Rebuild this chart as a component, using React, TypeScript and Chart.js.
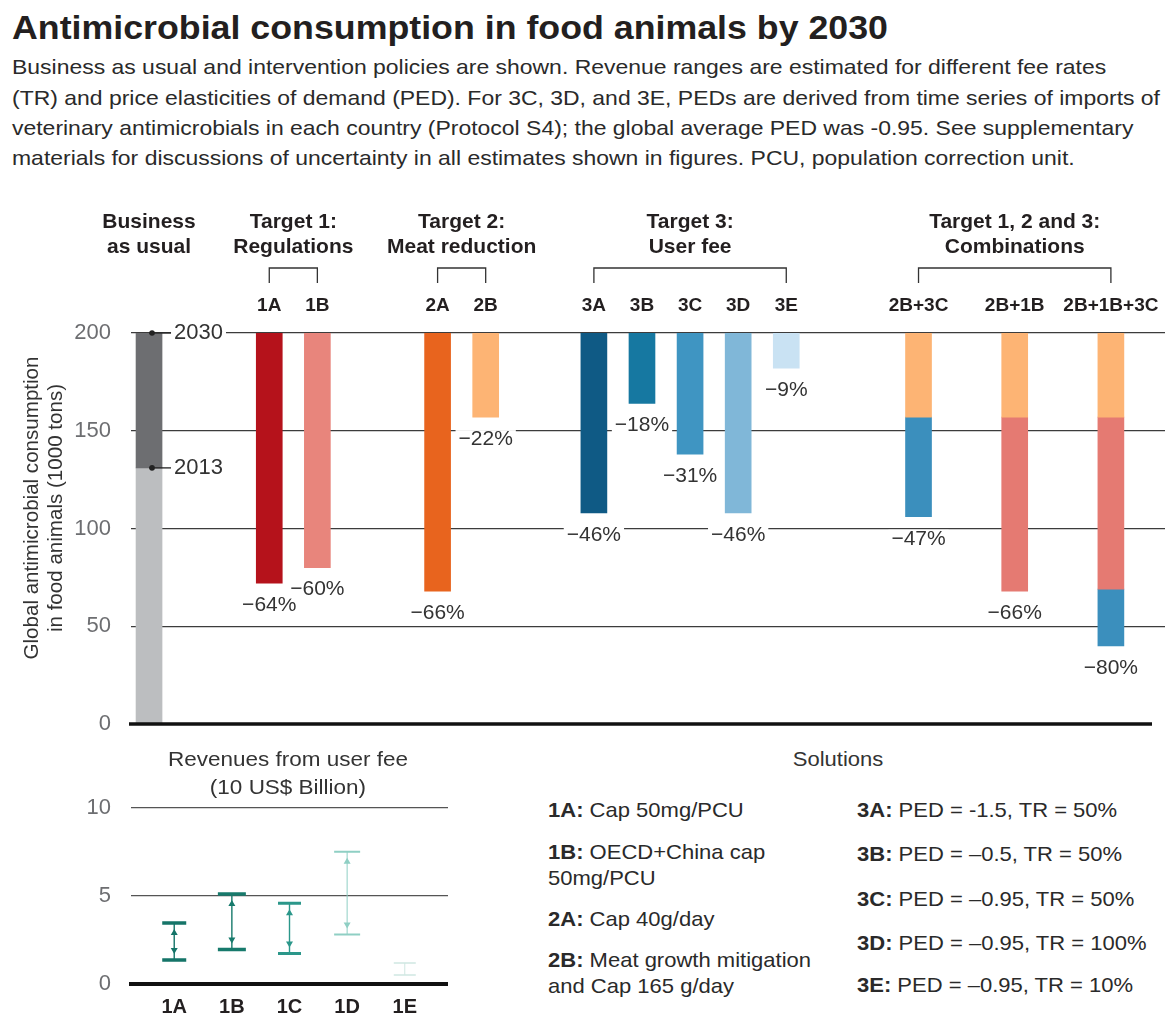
import React, { useEffect, useRef } from 'react';
import { Chart, registerables } from 'chart.js';

Chart.register(...registerables);

// ======================= DATA =======================
const TITLE = 'Antimicrobial consumption in food animals by 2030';
const INTRO_LINES = [
  'Business as usual and intervention policies are shown. Revenue ranges are estimated for different fee rates',
  '(TR) and price elasticities of demand (PED). For 3C, 3D, and 3E, PEDs are derived from time series of imports of',
  'veterinary antimicrobials in each country (Protocol S4); the global average PED was -0.95. See supplementary',
  'materials for discussions of uncertainty in all estimates shown in figures. PCU, population correction unit.',
];

const Y_TITLE = ['Global antimicrobial consumption', 'in food animals (1000 tons)'];

const SCENARIOS = ['BAU', '1A', '1B', '2A', '2B', '3A', '3B', '3C', '3D', '3E', '2B+3C', '2B+1B', '2B+1B+3C'];
const BAU_2030 = 200;
const BAU_2013 = 131;
// consumption level (1000 tons) reached after each successive measure
const LEVEL_STEP1 = [BAU_2013, 72, 80, 68, 157, 108, 164, 138, 108, 182, 157, 157, 157];
const LEVEL_STEP2 = [0, null, null, null, null, null, null, null, null, null, 106, 68, 69];
const LEVEL_STEP3 = [null, null, null, null, null, null, null, null, null, null, null, null, 40];
const CHANGE_PCT = [null, -64, -60, -66, -22, -46, -18, -31, -46, -9, -47, -66, -80];
const YEAR_LABELS = ['2030', '2013'];
const YEAR_VALUES = [BAU_2030, BAU_2013];

const GROUP_TITLES = [
  ['Business', 'as usual'],
  ['Target 1:', 'Regulations'],
  ['Target 2:', 'Meat reduction'],
  ['Target 3:', 'User fee'],
  ['Target 1, 2 and 3:', 'Combinations'],
];
const GROUP_MEMBERS = [
  ['BAU'],
  ['1A', '1B'],
  ['2A', '2B'],
  ['3A', '3B', '3C', '3D', '3E'],
  ['2B+3C', '2B+1B', '2B+1B+3C'],
];
const MAIN_Y_TICKS = [0, 50, 100, 150, 200];

const REVENUE_TITLE = ['Revenues from user fee', '(10 US$ Billion)'];
const REVENUE_CATEGORIES = ['1A', '1B', '1C', '1D', '1E'];
const REVENUE_LOW = [1.36, 1.96, 1.73, 2.81, 0.51];
const REVENUE_HIGH = [3.46, 5.12, 4.59, 7.51, 1.2];
const REVENUE_Y_TICKS = [0, 5, 10];

const SOLUTIONS_TITLE = 'Solutions';
const SOLUTION_CODES_LEFT = ['1A', '1B', '2A', '2B'];
const SOLUTION_TEXT_LEFT = [
  ['Cap 50mg/PCU'],
  ['OECD+China cap', '50mg/PCU'],
  ['Cap 40g/day'],
  ['Meat growth mitigation', 'and Cap 165 g/day'],
];
const SOLUTION_CODES_RIGHT = ['3A', '3B', '3C', '3D', '3E'];
const SOLUTION_TEXT_RIGHT = [
  'PED = -1.5, TR = 50%',
  'PED = \u20130.5, TR = 50%',
  'PED = \u20130.95, TR = 50%',
  'PED = \u20130.95, TR = 100%',
  'PED = \u20130.95, TR = 10%',
];

// ======================= STYLE / LAYOUT =======================
const FONT = "'Liberation Sans', Arial, Helvetica, sans-serif";
const INK = '#231f20';

const STEP1_COLORS = ['#6d6e71', '#b5121b', '#e8857c', '#e8641e', '#fdb474', '#0f5a85', '#1678a1', '#3f95c2', '#80b7d8', '#c9e2f3', '#fdb474', '#fdb474', '#fdb474'];
const STEP2_COLORS = ['#bcbec0', null, null, null, null, null, null, null, null, null, '#3b8fbd', '#e57a72', '#e57a72'];
const STEP3_COLORS = [null, null, null, null, null, null, null, null, null, null, null, null, '#3b8fbd'];

const MAIN_SLOT_COUNT = 86;
const MAIN_SLOTS = [1, 11, 15, 25, 29, 38, 42, 46, 50, 54, 65, 73, 81];

const REV_SLOT_COUNT = 11;
const REV_SLOTS = [1, 3, 5, 7, 9];
const REV_COLORS = ['#157468', '#177a6c', '#2b978a', '#8fcfc4', '#cfe7e2'];
const REV_CAP_THICK = [3.5, 3.5, 3, 2, 1.5];
const REV_CAP_W = [24, 28, 23, 26, 22];
const REV_LINE_W = [1.4, 1.4, 1.4, 1, 1];

// ======================= HELPERS =======================
let mctx: any = null;
function measure(text: string, font: string): number {
  if (!mctx) mctx = document.createElement('canvas').getContext('2d');
  mctx.font = font;
  return mctx.measureText(text).width;
}

function ctext(ctx: any, text: string, x: number, y: number, font: string, color: string, align: string, sx = 1, bg: string | null = null, bgH = 20) {
  ctx.save();
  ctx.font = font;
  const w = ctx.measureText(text).width * sx;
  const left = align === 'left' ? x : align === 'center' ? x - w / 2 : x - w;
  if (bg) {
    ctx.fillStyle = bg;
    ctx.fillRect(left - 3, y - bgH / 2, w + 6, bgH);
  }
  ctx.translate(left, y);
  ctx.scale(sx, 1);
  ctx.fillStyle = color;
  ctx.textAlign = 'left';
  ctx.textBaseline = 'middle';
  ctx.fillText(text, 0, 0);
  ctx.restore();
}

const fixedAxis = (width: number) => (s: any) => {
  s.width = width;
  s.paddingTop = 0;
  s.paddingBottom = 0;
};

type Seg = { t: string; b?: boolean };
function Txt(props: { x: number; y: number; segs: Seg[]; size: number; sx?: number; align?: string; color?: string; rotate?: boolean }) {
  const { x, y, segs, size, sx = 1, align = 'left', color = INK, rotate = false } = props;
  let transform = '';
  let origin = '';
  if (rotate) {
    transform = `translate(-50%, -50%) rotate(-90deg) scaleX(${sx})`;
    origin = '50% 50%';
  } else if (align === 'center') {
    transform = `translate(-50%, -50%) scaleX(${sx})`;
    origin = '50% 50%';
  } else {
    transform = `translateY(-50%) scaleX(${sx})`;
    origin = '0% 50%';
  }
  return (
    <div
      style={{
        position: 'absolute',
        left: x,
        top: y,
        whiteSpace: 'pre',
        fontFamily: FONT,
        fontSize: size,
        lineHeight: `${size}px`,
        color,
        transform,
        transformOrigin: origin,
      }}
    >
      {segs.map((s, i) => (
        <span key={i} style={{ fontWeight: s.b ? 700 : 400 }}>
          {s.t}
        </span>
      ))}
    </div>
  );
}

// ======================= MAIN CHART =======================
function MainChart() {
  const ref = useRef<HTMLCanvasElement>(null);
  useEffect(() => {
    const labels: string[] = Array.from({ length: MAIN_SLOT_COUNT }, () => '');
    SCENARIOS.forEach((s, i) => (labels[MAIN_SLOTS[i]] = s));

    const build = (low: (number | null)[], high: (number | null)[], colors: (string | null)[]) => {
      const data: any[] = Array.from({ length: MAIN_SLOT_COUNT }, () => null);
      const bg: string[] = Array.from({ length: MAIN_SLOT_COUNT }, () => 'rgba(0,0,0,0)');
      SCENARIOS.forEach((_, i) => {
        if (low[i] != null && high[i] != null) {
          data[MAIN_SLOTS[i]] = [low[i], high[i]];
          bg[MAIN_SLOTS[i]] = colors[i] as string;
        }
      });
      return { data, backgroundColor: bg, barThickness: 26, grouped: false, borderWidth: 0 };
    };
    const top = SCENARIOS.map(() => BAU_2030);

    const finalLevel = (i: number) =>
      LEVEL_STEP3[i] != null ? LEVEL_STEP3[i] : LEVEL_STEP2[i] != null ? LEVEL_STEP2[i] : LEVEL_STEP1[i];

    const overlay = {
      id: 'mainOverlay',
      afterDatasetsDraw(chart: any) {
        const ctx = chart.ctx;
        const ca = chart.chartArea;
        const xs = chart.scales.x;
        const ys = chart.scales.y;
        const px = (name: string) => xs.getPixelForValue(MAIN_SLOTS[SCENARIOS.indexOf(name)]);

        // zero line
        ctx.save();
        ctx.strokeStyle = '#111';
        ctx.lineWidth = 3.5;
        ctx.beginPath();
        ctx.moveTo(ca.left - 2, ys.getPixelForValue(0));
        ctx.lineTo(ca.right - 13, ys.getPixelForValue(0));
        ctx.stroke();
        ctx.restore();

        // percentage labels
        SCENARIOS.forEach((s, i) => {
          const pct = CHANGE_PCT[i];
          if (pct == null) return;
          const y = ys.getPixelForValue(finalLevel(i)) + 22;
          ctext(ctx, '\u2212' + Math.abs(pct) + '%', px(s), y, `21px ${FONT}`, '#333', 'center', 1, '#fff', 18);
        });

        // category labels
        SCENARIOS.forEach((s) => {
          if (s === 'BAU') return;
          ctext(ctx, s, px(s), ca.top - 27, `bold 19px ${FONT}`, INK, 'center');
        });

        // group headers and brackets
        GROUP_MEMBERS.forEach((members, g) => {
          const x0 = px(members[0]);
          const x1 = px(members[members.length - 1]);
          const cx = (x0 + x1) / 2;
          ctext(ctx, GROUP_TITLES[g][0], cx, ca.top - 111, `bold 21px ${FONT}`, INK, 'center');
          ctext(ctx, GROUP_TITLES[g][1], cx, ca.top - 86, `bold 21px ${FONT}`, INK, 'center');
          if (members.length > 1) {
            ctx.save();
            ctx.strokeStyle = '#333';
            ctx.lineWidth = 1.3;
            ctx.beginPath();
            ctx.moveTo(x0, ca.top - 50);
            ctx.lineTo(x0, ca.top - 65);
            ctx.lineTo(x1, ca.top - 65);
            ctx.lineTo(x1, ca.top - 50);
            ctx.stroke();
            ctx.restore();
          }
        });

        // BAU year markers
        const bx = px('BAU');
        YEAR_LABELS.forEach((lab, k) => {
          const y = ys.getPixelForValue(YEAR_VALUES[k]);
          ctx.save();
          ctx.strokeStyle = '#222';
          ctx.lineWidth = 1.3;
          ctx.beginPath();
          ctx.moveTo(bx, y);
          ctx.lineTo(bx + 22, y);
          ctx.stroke();
          ctx.fillStyle = '#222';
          ctx.beginPath();
          ctx.arc(bx + 3, y, 2.8, 0, Math.PI * 2);
          ctx.fill();
          ctx.restore();
          ctext(ctx, lab, bx + 25, y, `22px ${FONT}`, '#333', 'left', 1, '#fff', 20);
        });
      },
    };

    const chart = new Chart(ref.current as HTMLCanvasElement, {
      type: 'bar',
      data: {
        labels,
        datasets: [
          build(LEVEL_STEP1, top, STEP1_COLORS) as any,
          build(LEVEL_STEP2, LEVEL_STEP1, STEP2_COLORS) as any,
          build(LEVEL_STEP3, LEVEL_STEP2, STEP3_COLORS) as any,
        ],
      },
      options: {
        responsive: false,
        animation: false,
        layout: { padding: { top: 133, bottom: 21, left: 0, right: 0 } },
        plugins: { legend: { display: false }, tooltip: { enabled: false } },
        scales: {
          x: { type: 'category', display: false, offset: true },
          y: {
            min: 0,
            max: 200,
            afterFit: fixedAxis(131),
            afterBuildTicks: (s: any) => {
              s.ticks = MAIN_Y_TICKS.map((v) => ({ value: v }));
            },
            border: { display: false },
            grid: {
              color: '#3c3c3c',
              lineWidth: (c: any) => (c.tick && c.tick.value === 0 ? 0 : 1.3),
              drawTicks: false,
            },
            ticks: { padding: 20, color: '#6d6e71', font: { family: FONT, size: 22 } },
          },
        },
      } as any,
      plugins: [overlay],
    });
    return () => chart.destroy();
  }, []);
  return (
    <canvas
      ref={ref}
      width={1165}
      height={545}
      style={{ position: 'absolute', left: 0, top: 200, width: 1165, height: 545 }}
    />
  );
}

// ======================= REVENUE CHART =======================
function RevenueChart() {
  const ref = useRef<HTMLCanvasElement>(null);
  useEffect(() => {
    const labels: string[] = Array.from({ length: REV_SLOT_COUNT }, () => '');
    REVENUE_CATEGORIES.forEach((c, i) => (labels[REV_SLOTS[i]] = c));
    const data: any[] = Array.from({ length: REV_SLOT_COUNT }, () => null);
    REVENUE_CATEGORIES.forEach((_, i) => (data[REV_SLOTS[i]] = [REVENUE_LOW[i], REVENUE_HIGH[i]]));

    const overlay = {
      id: 'revOverlay',
      afterDatasetsDraw(chart: any) {
        const ctx = chart.ctx;
        const ca = chart.chartArea;
        const ys = chart.scales.y;
        const meta = chart.getDatasetMeta(0);

        ctx.save();
        ctx.strokeStyle = '#111';
        ctx.lineWidth = 4;
        ctx.beginPath();
        ctx.moveTo(ca.left - 2, ys.getPixelForValue(0));
        ctx.lineTo(ca.right, ys.getPixelForValue(0));
        ctx.stroke();
        ctx.restore();

        REVENUE_CATEGORIES.forEach((c, i) => {
          const el = meta.data[REV_SLOTS[i]];
          if (!el) return;
          const p = el.getProps(['x', 'y', 'base'], true);
          const x = p.x;
          const yTop = Math.min(p.y, p.base);
          const yBot = Math.max(p.y, p.base);
          const col = REV_COLORS[i];
          const cw = REV_CAP_W[i];
          ctx.save();
          ctx.strokeStyle = col;
          ctx.fillStyle = col;
          ctx.lineWidth = REV_LINE_W[i];
          ctx.beginPath();
          ctx.moveTo(x, yTop);
          ctx.lineTo(x, yBot);
          ctx.stroke();
          ctx.lineWidth = REV_CAP_THICK[i];
          ctx.beginPath();
          ctx.moveTo(x - cw / 2, yTop);
          ctx.lineTo(x + cw / 2, yTop);
          ctx.moveTo(x - cw / 2, yBot);
          ctx.lineTo(x + cw / 2, yBot);
          ctx.stroke();
          if (yBot - yTop > 24) {
            const t1 = yTop + 6;
            const t2 = yBot - 6;
            ctx.beginPath();
            ctx.moveTo(x, t1);
            ctx.lineTo(x - 3.5, t1 + 6);
            ctx.lineTo(x + 3.5, t1 + 6);
            ctx.closePath();
            ctx.moveTo(x, t2);
            ctx.lineTo(x - 3.5, t2 - 6);
            ctx.lineTo(x + 3.5, t2 - 6);
            ctx.closePath();
            ctx.fill();
          }
          ctx.restore();
          ctext(ctx, c, x, ca.bottom + 23, `bold 20px ${FONT}`, INK, 'center');
        });
      },
    };

    const chart = new Chart(ref.current as HTMLCanvasElement, {
      type: 'bar',
      data: {
        labels,
        datasets: [
          {
            data,
            backgroundColor: 'rgba(0,0,0,0)',
            borderWidth: 0,
            barThickness: 26,
          } as any,
        ],
      },
      options: {
        responsive: false,
        animation: false,
        layout: { padding: { top: 63, bottom: 37, left: 0, right: 12 } },
        plugins: { legend: { display: false }, tooltip: { enabled: false } },
        scales: {
          x: { type: 'category', display: false, offset: true },
          y: {
            min: 0,
            max: 10,
            afterFit: fixedAxis(131),
            afterBuildTicks: (s: any) => {
              s.ticks = REVENUE_Y_TICKS.map((v) => ({ value: v }));
            },
            border: { display: false },
            grid: {
              color: '#555',
              lineWidth: (c: any) => (c.tick && c.tick.value === 0 ? 0 : 1.2),
              drawTicks: false,
            },
            ticks: { padding: 20, color: '#6d6e71', font: { family: FONT, size: 22 } },
          },
        },
      } as any,
      plugins: [overlay],
    });
    return () => chart.destroy();
  }, []);
  return (
    <canvas
      ref={ref}
      width={460}
      height={276}
      style={{ position: 'absolute', left: 0, top: 745, width: 460, height: 276 }}
    />
  );
}

// ======================= APP =======================
export default function App() {
  const titleScale = 876 / measure(TITLE, `bold 33px ${FONT}`);
  const introScale = 1148 / measure(INTRO_LINES[1], `21px ${FONT}`);
  const yTitleScale = 303 / measure(Y_TITLE[0], `20px ${FONT}`);
  const revScale = 240 / measure(REVENUE_TITLE[0], `21px ${FONT}`);
  const legScale = 263 / (measure('2B: ', `bold 21px ${FONT}`) + measure('Meat growth mitigation', `21px ${FONT}`));

  const introY = [66, 97, 127, 157];
  const leftRows = [809, 851, 877, 918, 959, 985];
  const rightRows = [809, 853, 898, 942, 984];

  const leftLines: { code: string | null; text: string }[] = [];
  SOLUTION_CODES_LEFT.forEach((c, i) => {
    SOLUTION_TEXT_LEFT[i].forEach((t, j) => leftLines.push({ code: j === 0 ? c : null, text: t }));
  });

  return (
    <div
      style={{
        position: 'absolute',
        left: 0,
        top: 0,
        width: 1165,
        height: 1021,
        background: '#fff',
        overflow: 'hidden',
      }}
    >
      <MainChart />
      <RevenueChart />
      <Txt x={12} y={27} segs={[{ t: TITLE, b: true }]} size={33} sx={titleScale} />
      {INTRO_LINES.map((l, i) => (
        <Txt key={i} x={12} y={introY[i]} segs={[{ t: l }]} size={21} sx={introScale} color="#2a2a2a" />
      ))}
      <Txt x={31} y={508} segs={[{ t: Y_TITLE[0] }]} size={20} sx={yTitleScale} rotate color="#333" />
      <Txt x={55} y={508} segs={[{ t: Y_TITLE[1] }]} size={20} sx={yTitleScale} rotate color="#333" />
      <Txt x={288} y={758} segs={[{ t: REVENUE_TITLE[0] }]} size={21} sx={revScale} align="center" color="#333" />
      <Txt x={288} y={786} segs={[{ t: REVENUE_TITLE[1] }]} size={21} sx={revScale} align="center" color="#333" />
      <Txt x={838} y={758} segs={[{ t: SOLUTIONS_TITLE }]} size={21} sx={legScale} align="center" color="#333" />
      {leftLines.map((l, i) => (
        <Txt
          key={'l' + i}
          x={548}
          y={leftRows[i]}
          segs={l.code ? [{ t: l.code + ':', b: true }, { t: ' ' + l.text }] : [{ t: l.text }]}
          size={21}
          sx={legScale}
          color="#2a2a2a"
        />
      ))}
      {SOLUTION_CODES_RIGHT.map((c, i) => (
        <Txt
          key={'r' + i}
          x={857}
          y={rightRows[i]}
          segs={[{ t: c + ':', b: true }, { t: ' ' + SOLUTION_TEXT_RIGHT[i] }]}
          size={21}
          sx={legScale}
          color="#2a2a2a"
        />
      ))}
    </div>
  );
}
